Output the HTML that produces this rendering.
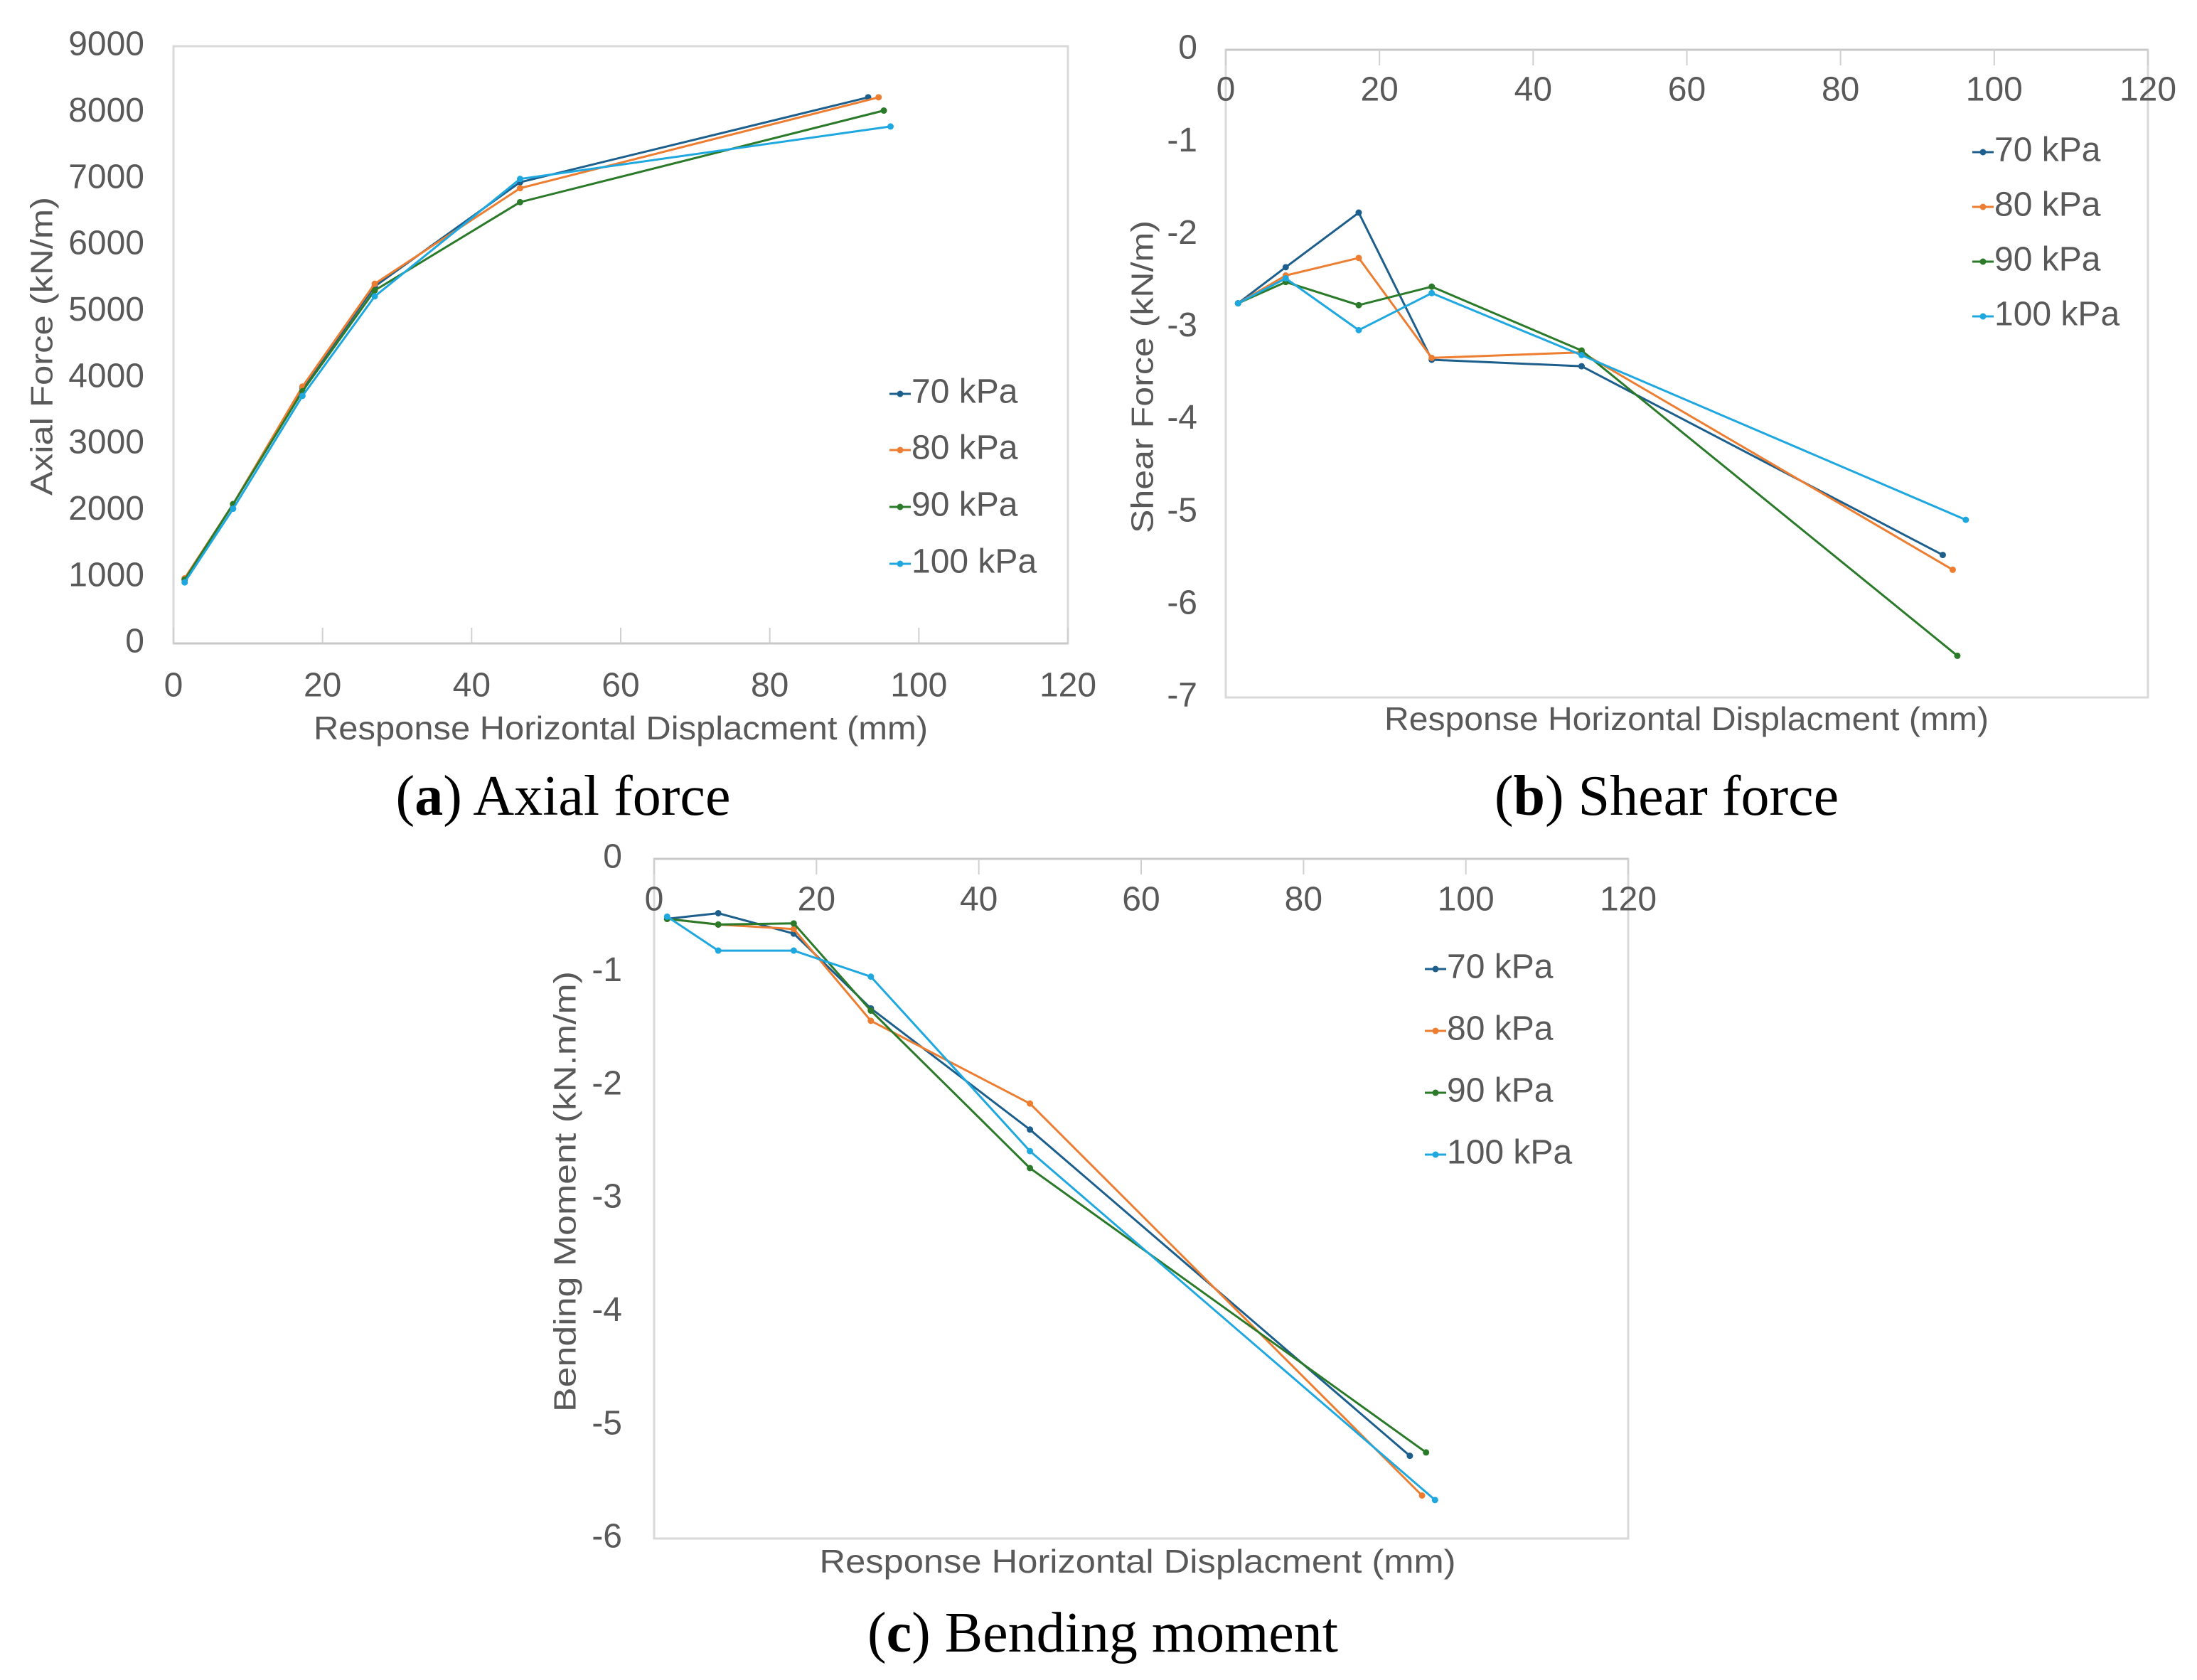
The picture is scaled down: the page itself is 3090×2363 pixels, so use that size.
<!DOCTYPE html>
<html><head><meta charset="utf-8"><style>
html,body{margin:0;padding:0;background:#fff;}
svg{display:block;}
.t{font-family:"Liberation Sans",sans-serif;fill:#595959;}
.cap{font-family:"Liberation Serif",serif;fill:#000;font-size:80px;}
</style></head><body>
<svg id="fig" width="3090" height="2363" viewBox="0 0 3090 2363" xmlns="http://www.w3.org/2000/svg"></svg>
<script>
const seriesNames = ["70 kPa","80 kPa","90 kPa","100 kPa"];
const colors = ["#1d5f8c","#ed7d31","#2a7a2a","#1fa8e0"];
// Axial force
const axX70=[1.5,8,17.3,27,46.5,93.2], axY70=[970,2100,3850,5380,6950,8230];
const axX80=[1.5,8,17.3,27,46.5,94.6], axY80=[980,2100,3870,5420,6860,8230];
const axX90=[1.5,8,17.3,27,46.5,95.3], axY90=[960,2100,3800,5320,6650,8030];
const axX100=[1.5,8,17.3,27,46.5,96.2], axY100=[920,2030,3730,5230,7000,7790];
// Shear force
const shX70=[1.6,7.8,17.3,26.8,46.3,93.3], shY70=[-2.74,-2.35,-1.76,-3.35,-3.42,-5.46];
const shX80=[1.6,7.8,17.3,26.8,46.3,94.6], shY80=[-2.74,-2.44,-2.25,-3.33,-3.27,-5.62];
const shX90=[1.6,7.8,17.3,26.8,46.3,95.2], shY90=[-2.74,-2.51,-2.76,-2.56,-3.25,-6.55];
const shX100=[1.6,7.8,17.3,26.8,46.3,96.3], shY100=[-2.74,-2.47,-3.03,-2.63,-3.30,-5.08];
// Bending moment
const bmX70=[1.6,7.9,17.2,26.7,46.3,93.1], bmY70=[-0.53,-0.48,-0.66,-1.32,-2.39,-5.27];
const bmX80=[1.6,7.9,17.2,26.7,46.3,94.6], bmY80=[-0.53,-0.58,-0.62,-1.43,-2.16,-5.62];
const bmX90=[1.6,7.9,17.2,26.7,46.3,95.1], bmY90=[-0.53,-0.58,-0.57,-1.34,-2.73,-5.24];
const bmX100=[1.6,7.9,17.2,26.7,46.3,96.2], bmY100=[-0.51,-0.81,-0.81,-1.04,-2.58,-5.66];
const xTicks=[0,20,40,60,80,100,120];
const axYTicks=[0,1000,2000,3000,4000,5000,6000,7000,8000,9000];
const shYTicks=[0,-1,-2,-3,-4,-5,-6,-7];
const bmYTicks=[0,-1,-2,-3,-4,-5,-6];

const NS="http://www.w3.org/2000/svg";
const svg=document.getElementById('fig');
function mk(tag,attrs,parent,txt){const e=document.createElementNS(NS,tag);for(const k in attrs)e.setAttribute(k,attrs[k]);if(txt!==undefined)e.textContent=txt;(parent||svg).appendChild(e);return e;}

function chart(cfg){
  const g=mk('g',{});
  
  
  const sx=v=>cfg.L+(v-0)/(120)*(cfg.R-cfg.L);
  const sy=v=>cfg.B-(v-cfg.ymin)/(cfg.ymax-cfg.ymin)*(cfg.B-cfg.T);
  const frame=mk('rect',{x:cfg.L,y:cfg.T,width:cfg.R-cfg.L,height:cfg.B-cfg.T,fill:'none',stroke:'#d9d9d9','stroke-width':3},g);
  
  
  const y0=sy(0);
  const xa=mk('line',{x1:cfg.L,x2:cfg.R,y1:y0,y2:y0,stroke:'#c8c8c8','stroke-width':3},g);
  
  
  xTicks.forEach(v=>{
    const tk=mk('line',{x1:sx(v),x2:sx(v),y1:y0,y2:y0+(cfg.tickDir*22),stroke:'#d0d0d0','stroke-width':2},g);
    
    
    const tl=mk('text',{x:sx(v),y:cfg.xLabY,'text-anchor':'middle','font-size':48,class:'t','dominant-baseline':'middle'},g,String(v));
    
    
  });
  cfg.yTicks.forEach(v=>{
    const tl=mk('text',{x:cfg.yLabX,y:sy(v),'text-anchor':'end','font-size':48,class:'t','dominant-baseline':'middle'},g,String(v));
    
    
  });
  const xt=mk('text',{x:cfg.xtX,y:cfg.xtY,'text-anchor':'middle','font-size':46,class:'t','dominant-baseline':'middle',textLength:cfg.xtLen,lengthAdjust:'spacingAndGlyphs'},g,'Response Horizontal Displacment (mm)');
  
  
  const yt=mk('text',{x:0,y:0,'text-anchor':'middle','font-size':44,class:'t','dominant-baseline':'middle',transform:`translate(${cfg.ytX},${cfg.ytY}) rotate(-90)`,textLength:cfg.ytLen,lengthAdjust:'spacingAndGlyphs','xml:space':'preserve'},g,cfg.ytitle);
  
  
  cfg.series.forEach((s,i)=>{
    const xs=s[0],ys=s[1];
    const pts=xs.map((x,j)=>sx(x).toFixed(1)+','+sy(ys[j]).toFixed(1)).join(' ');
    const pl=mk('polyline',{points:pts,fill:'none',stroke:colors[i],'stroke-width':3,'stroke-linejoin':'round'},g);
    
    
    xs.forEach((x,j)=>{
      const c=mk('circle',{cx:sx(x),cy:sy(ys[j]),r:4.5,fill:colors[i]},g);
      
      
    });
    const ly=cfg.legY[i];
    const le=mk('g',{},g);
    
    
    mk('line',{x1:cfg.legX,x2:cfg.legX+30,y1:ly,y2:ly,stroke:colors[i],'stroke-width':3},le);
    mk('circle',{cx:cfg.legX+15,cy:ly,r:4.5,fill:colors[i]},le);
    mk('text',{x:cfg.legX+31,y:ly,'font-size':48,class:'t','dominant-baseline':'middle'},le,seriesNames[i]);
  });
  const cap=mk('text',{x:cfg.capX,y:cfg.capY,'text-anchor':'middle',class:'cap','dominant-baseline':'middle'},g);
  
  
  mk('tspan',{},cap,'(');
  mk('tspan',{'font-weight':'bold'},cap,cfg.capL);
  mk('tspan',{},cap,') '+cfg.capT);
}

chart({name:'axial-force-chart',L:244,R:1502,T:65,B:905,ymin:0,ymax:9000,tickDir:-1,xLabY:967,yLabX:203,
  yTicks:axYTicks,xtX:873,xtY:1028,xtLen:864,ytX:62,ytY:487,ytLen:420,ytitle:'Axial Force  (kN/m)',
  series:[[axX70,axY70],[axX80,axY80],[axX90,axY90],[axX100,axY100]],
  legX:1251,legY:[554,633,713,793],capX:792,capY:1128,capL:'a',capT:'Axial force'});
chart({name:'shear-force-chart',L:1724,R:3021,T:70,B:981,ymin:-7,ymax:0,tickDir:1,xLabY:129,yLabX:1684,
  yTicks:shYTicks,xtX:2372,xtY:1015,xtLen:850,ytX:1610,ytY:530,ytLen:440,ytitle:'Shear Force  (kN/m)',
  series:[[shX70,shY70],[shX80,shY80],[shX90,shY90],[shX100,shY100]],
  legX:2774,legY:[214,291,368,445],capX:2344,capY:1128,capL:'b',capT:'Shear force'});
chart({name:'bending-moment-chart',L:920,R:2290,T:1208,B:2164,ymin:-6,ymax:0,tickDir:1,xLabY:1268,yLabX:875,
  yTicks:bmYTicks,xtX:1600,xtY:2200,xtLen:895,ytX:798,ytY:1676,ytLen:620,ytitle:'Bending Moment  (kN.m/m)',
  series:[[bmX70,bmY70],[bmX80,bmY80],[bmX90,bmY90],[bmX100,bmY100]],
  legX:2004,legY:[1363,1450,1537,1624],capX:1551,capY:2305,capL:'c',capT:'Bending moment'});
</script>
</body></html>
